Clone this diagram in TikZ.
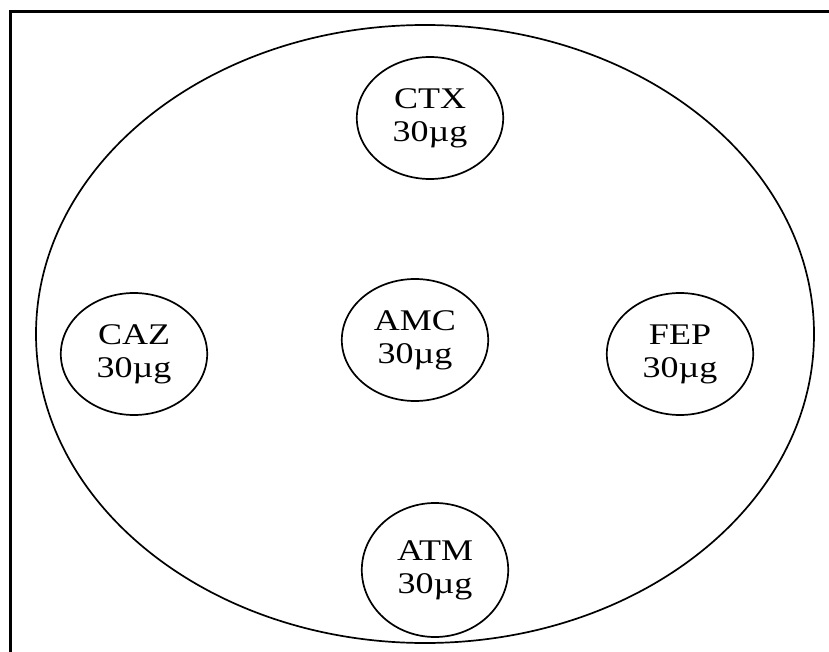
\documentclass[tikz,border=0pt]{standalone}
\usepackage{fontspec}
\setmainfont{Liberation Serif}
\usetikzlibrary{shapes.geometric}

\begin{document}
\begin{tikzpicture}[x=1pt, y=-1pt,
		disc/.style={ellipse, draw, line width=1.7pt, minimum width=122pt, minimum height=122pt,
			inner sep=0pt, align=center, font=\fontsize{30}{33}\selectfont, xscale=1.2, transform shape}]
		\useasboundingbox (0,0) rectangle (829,652);
		
		\draw[line width=3pt] (10,652) -- (10,12) -- (829,12);
		\draw (425,334) node [ellipse, draw, line width=1.7pt, minimum width=778pt, minimum height=618pt] (plate) {};
		
		\draw (430,118) node [disc] (ctx) {CTX\\30µg};
		\draw (134,354) node [disc] (caz) {CAZ\\30µg};
		\draw (415,340) node [disc] (amc) {AMC\\30µg};
		\draw (680,354) node [disc] (fep) {FEP\\30µg};
		\draw (435,570) node [disc, minimum height=134pt] (atm) {ATM\\30µg};
		
		\end{tikzpicture}
\end{document}
